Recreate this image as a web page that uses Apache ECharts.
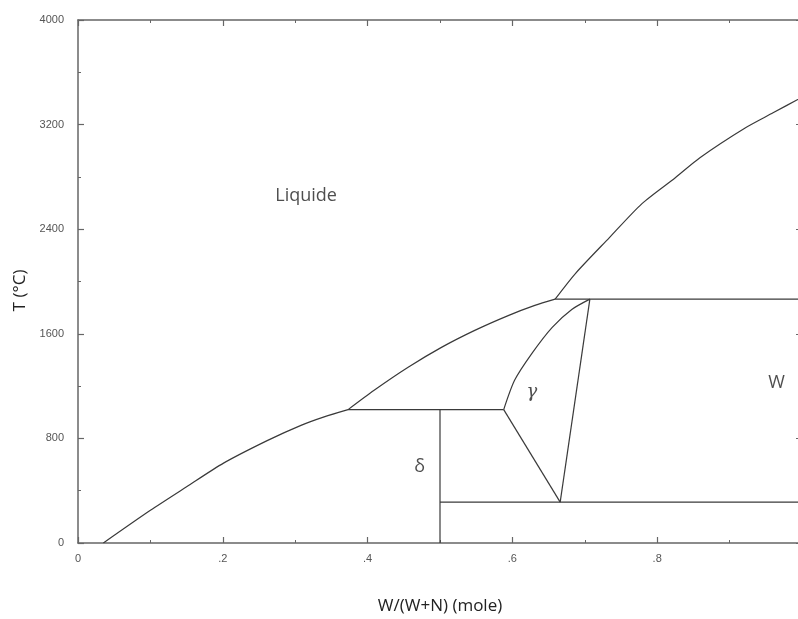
<!DOCTYPE html>
<html>
<head>
<meta charset="utf-8">
<script src="https://cdn.jsdelivr.net/npm/echarts@6/dist/echarts.min.js"></script>
<style>html,body{margin:0;padding:0;background:#fff;overflow:hidden}#c{width:798px;height:619px}</style>
</head>
<body>
<div id="c"></div>
<script>
// Tick labels
const xTicks = [0, 0.2, 0.4, 0.6, 0.8, 1.0];
const xTickLabels = ['0', '.2', '.4', '.6', '.8', ''];
const yTicks = [0, 800, 1600, 2400, 3200, 4000];

// Liquidus, left branch (x, T)
const liqLeftX = [0.035, 0.10, 0.15, 0.201, 0.262, 0.308, 0.34, 0.373];
const liqLeftT = [0, 250, 430, 611, 785, 900, 965, 1020];
// Liquidus, middle branch
const liqMidX = [0.373, 0.409, 0.456, 0.502, 0.548, 0.595, 0.631, 0.659];
const liqMidT = [1020, 1168, 1344, 1496, 1626, 1741, 1817, 1865];
// Liquidus, right branch
const liqRightX = [0.659, 0.687, 0.734, 0.779, 0.825, 0.859, 0.922, 0.960, 1.0];
const liqRightT = [1865, 2061, 2336, 2596, 2794, 2947, 3176, 3290, 3410];
// Horizontal invariants
const eutecticX = [0.373, 0.588];
const eutecticT = [1020, 1020];
const peritecticX = [0.659, 1.0];
const peritecticT = [1865, 1865];
const lowX = [0.5, 1.0];
const lowT = [313, 313];
// Delta phase vertical
const deltaX = [0.5, 0.5];
const deltaT = [1020, 0];
// Gamma region boundaries
const gammaLeftX = [0.588, 0.603, 0.627, 0.655, 0.682, 0.707];
const gammaLeftT = [1020, 1244, 1450, 1649, 1786, 1865];
const gammaLowX = [0.588, 0.666];
const gammaLowT = [1020, 313];
const gammaRightX = [0.666, 0.707];
const gammaRightT = [313, 1865];

// Region labels
const regionNames = ['Liquide', 'W', 'δ', 'γ'];
const regionX = [0.315, 0.965, 0.472, 0.627];
const regionT = [2654, 1221, 580, 1153];

function pairs(xs, ts) { return xs.map((x, i) => [x, ts[i]]); }

const lineColor = '#3a3a3a';
const axisColor = '#666';
function lineSeries(xs, ts, smooth) {
  return {
    type: 'line', data: pairs(xs, ts), showSymbol: false, symbol: 'none',
    smooth: smooth ? 0.25 : false,
    lineStyle: { color: lineColor, width: 1.2 }, silent: true, z: 3
  };
}

const chart = echarts.init(document.getElementById('c'), null, { renderer: 'canvas' });
const axisCommon = {
  axisLine: { show: true, onZero: false, lineStyle: { color: axisColor, width: 1.5 } },
  axisTick: { show: true, inside: true, length: 6, lineStyle: { color: axisColor, width: 1.2 } },
  minorTick: { show: true, splitNumber: 2, length: 3, lineStyle: { color: axisColor, width: 1 } },
  splitLine: { show: false }
};
const option = {
  animation: false,
  backgroundColor: '#fff',
  grid: { left: 78, top: 20, width: 724, height: 523, containLabel: false, outerBoundsMode: 'none' },
  xAxis: [
    Object.assign({
      type: 'value', min: 0, max: 1, interval: 0.2, position: 'bottom',
      name: 'W/(W+N) (mole)', nameLocation: 'middle', nameGap: 55,
      nameTextStyle: { fontFamily: 'Open Sans', fontSize: 17, color: '#222' },
      axisLabel: {
        margin: 10, color: '#555', fontSize: 11, fontFamily: 'Liberation Sans',
        formatter: v => { const i = xTicks.findIndex(t => Math.abs(t - v) < 1e-6); return i >= 0 ? xTickLabels[i] : ''; }
      }
    }, axisCommon),
    Object.assign({
      type: 'value', min: 0, max: 1, interval: 0.2, position: 'top',
      axisLabel: { show: false }
    }, axisCommon)
  ],
  yAxis: [
    Object.assign({
      type: 'value', min: 0, max: 4000, interval: 800, position: 'left',
      name: 'T (°C)', nameLocation: 'middle', nameGap: 48, nameRotate: 90,
      nameTextStyle: { fontFamily: 'Open Sans', fontSize: 17, color: '#222', padding: [0, 0, 0, -18] },
      axisLabel: { margin: 14, color: '#555', fontSize: 11, fontFamily: 'Liberation Sans',
        formatter: v => yTicks.indexOf(v) >= 0 ? String(v) : '' }
    }, axisCommon),
    Object.assign({
      type: 'value', min: 0, max: 4000, interval: 800, position: 'right',
      axisLabel: { show: false }
    }, axisCommon)
  ],
  series: [
    lineSeries(liqLeftX, liqLeftT, true),
    lineSeries(liqMidX, liqMidT, true),
    lineSeries(liqRightX, liqRightT, true),
    lineSeries(eutecticX, eutecticT),
    lineSeries(peritecticX, peritecticT),
    lineSeries(lowX, lowT),
    lineSeries(deltaX, deltaT),
    lineSeries(gammaLeftX, gammaLeftT, true),
    lineSeries(gammaLowX, gammaLowT),
    lineSeries(gammaRightX, gammaRightT),
    {
      type: 'scatter', symbolSize: 0, silent: true,
      data: regionNames.map((n, i) => ({ value: [regionX[i], regionT[i]], name: n })),
      label: {
        show: true, position: 'inside', color: '#222',
        formatter: p => p.name,
        fontFamily: 'Open Sans', fontSize: 18
      }
    }
  ]
};
option.series[option.series.length - 1].data[3].label = { fontFamily: 'DejaVu Serif', fontStyle: 'italic', fontSize: 18 };
chart.setOption(option);
</script>
</body>
</html>
